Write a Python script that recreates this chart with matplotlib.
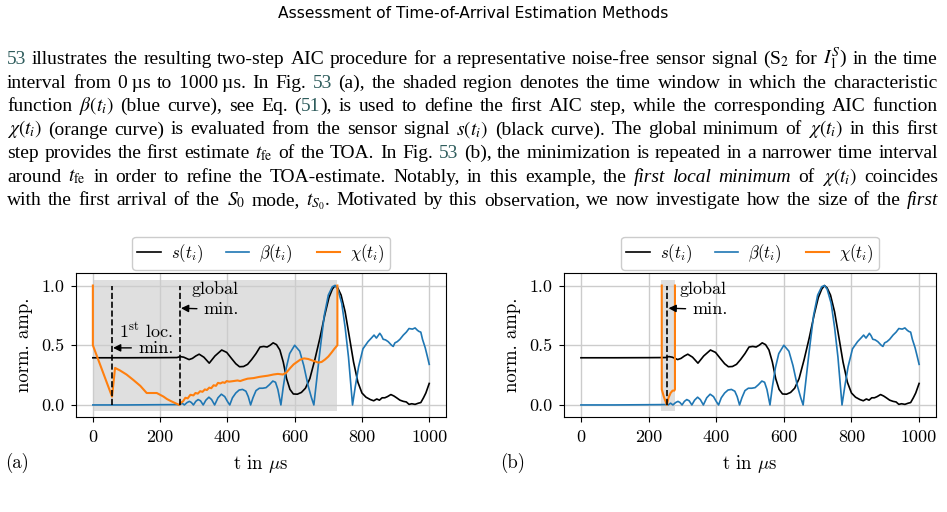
import re
import matplotlib.pyplot as plt

plt.rcParams['font.family'] = ['cmr10', 'DejaVu Serif']
plt.rcParams['mathtext.fontset'] = 'cm'
plt.rcParams['axes.unicode_minus'] = False

# sensor signal s(t_i), same in both panels
s_t = [0, 100, 200, 250, 260, 270, 278, 286, 296, 306, 316, 330, 346, 363, 383, 398, 412, 425, 436, 448,
       460, 472, 485, 497, 508, 518, 527, 536, 546, 556, 566, 576, 586, 596, 608, 620, 632, 645, 660, 675,
       690, 702, 712, 720, 728, 738, 750, 762, 775, 788, 800, 812, 825, 835, 844, 852, 860, 868, 876, 886,
       895, 903, 913, 923, 932, 940, 948, 958, 968, 975, 983, 990, 1000]
s_v = [0.395, 0.395, 0.396, 0.397, 0.405, 0.40, 0.39, 0.38, 0.39, 0.41, 0.425, 0.40, 0.35, 0.41, 0.46, 0.44,
       0.39, 0.345, 0.32, 0.322, 0.34, 0.38, 0.43, 0.485, 0.49, 0.485, 0.50, 0.52, 0.505, 0.46, 0.36, 0.22,
       0.13, 0.092, 0.09, 0.105, 0.14, 0.22, 0.38, 0.56, 0.76, 0.90, 0.97, 1.0, 0.98, 0.92, 0.78, 0.58,
       0.36, 0.19, 0.10, 0.065, 0.045, 0.035, 0.05, 0.04, 0.06, 0.06, 0.07, 0.087, 0.075, 0.06, 0.04, 0.03,
       0.025, 0.005, 0.01, 0.005, 0.015, 0.02, 0.06, 0.10, 0.18]

# characteristic function beta(t_i)
beta_t = [0, 100, 200, 250, 258, 265, 272, 280, 287, 293, 299, 306, 313, 320, 328, 336, 345, 353, 362, 372,
          382, 392, 400, 407, 415, 425, 435, 445, 455, 462, 469, 476, 485, 495, 505, 515, 525, 535, 543, 550,
          559, 566, 575, 585, 600, 615, 627, 640, 650, 657, 665, 675, 688, 700, 712, 720, 728, 740, 750, 760,
          772, 780, 790, 803, 818, 828, 836, 843, 848, 853, 858, 863, 870, 878, 888, 893, 898, 905, 913, 923,
          932, 940, 950, 958, 965, 970, 975, 980, 988, 995, 1000]
beta_v = [0, 0, 0.002, 0.003, 0.0, 0.015, 0.0, 0.02, 0.03, 0.02, 0.0, 0.03, 0.045, 0.035, 0.0, 0.04, 0.065,
          0.045, 0.0, 0.06, 0.09, 0.07, 0.03, 0.0, 0.06, 0.1, 0.125, 0.13, 0.115, 0.07, 0.0, 0.06, 0.12, 0.14,
          0.14, 0.145, 0.17, 0.2, 0.19, 0.13, 0.0, 0.15, 0.31, 0.43, 0.5, 0.45, 0.33, 0.16, 0.06, 0.0, 0.2,
          0.45, 0.75, 0.92, 0.99, 1.0, 0.97, 0.85, 0.65, 0.40, 0.0, 0.15, 0.32, 0.47, 0.53, 0.56, 0.585, 0.56,
          0.58, 0.6, 0.58, 0.55, 0.545, 0.53, 0.50, 0.49, 0.52, 0.53, 0.55, 0.585, 0.61, 0.64, 0.635, 0.645,
          0.625, 0.615, 0.61, 0.55, 0.48, 0.40, 0.34]

# AIC function chi(t_i), first step (a)
chi_a_t = [0, 0, 57, 66, 80, 100, 120, 141, 160, 175, 190, 200, 210, 220, 230, 245, 257, 262, 268, 275, 282,
           290, 299, 305, 312, 319, 326, 333, 339, 346, 352, 359, 366, 372, 379, 386, 392, 398, 405, 418, 430,
           438, 448, 460, 478, 495, 507, 520, 537, 550, 565, 575, 587, 597, 607, 617, 628, 640, 650, 660, 670,
           680, 690, 700, 710, 718, 727, 727]
chi_a_v = [1.0, 0.5, 0.07, 0.31, 0.29, 0.255, 0.21, 0.16, 0.10, 0.10, 0.10, 0.085, 0.07, 0.05, 0.035, 0.015,
           0.0, 0.02, 0.03, 0.06, 0.055, 0.085, 0.08, 0.10, 0.095, 0.115, 0.11, 0.13, 0.125, 0.145, 0.14,
           0.165, 0.16, 0.185, 0.18, 0.19, 0.185, 0.2, 0.195, 0.2, 0.205, 0.2, 0.21, 0.22, 0.225, 0.235, 0.24,
           0.245, 0.255, 0.26, 0.255, 0.27, 0.31, 0.34, 0.36, 0.38, 0.39, 0.385, 0.375, 0.365, 0.355, 0.36,
           0.38, 0.405, 0.44, 0.47, 0.5, 1.0]

# AIC function chi(t_i), second step (b)
chi_b_t = [239, 239, 245, 254, 259, 265, 271, 276, 278, 278]
chi_b_v = [1.0, 0.13, 0.07, 0.0, 0.06, 0.1, 0.12, 0.12, 0.13, 1.0]

win_a = [0, 727]
win_b = [238, 279]
min_a = [57, 258]
min_b = [255]
xticks = [0, 200, 400, 600, 800, 1000]
yticks = [0.0, 0.5, 1.0]

title = 'Assessment of Time-of-Arrival Estimation Methods'
# @..@ = link colour, *..* = italic, ~ = thin space
para = [
    r'@53@ illustrates the resulting two-step AIC procedure for a representative noise-free sensor signal (S$_2$ for $I_1^S$) in the time',
    r'interval from 0~µs to 1000~µs. In Fig. @53@ (a), the shaded region denotes the time window in which the characteristic',
    r'function $\beta(t_i)$ (blue curve), see Eq. (@51@), is used to define the first AIC step, while the corresponding AIC function',
    r'$\chi(t_i)$ (orange curve) is evaluated from the sensor signal $s(t_i)$ (black curve). The global minimum of $\chi(t_i)$ in this first',
    r'step provides the first estimate $t_\mathrm{fe}$ of the TOA. In Fig. @53@ (b), the minimization is repeated in a narrower time interval',
    r'around $t_\mathrm{fe}$ in order to refine the TOA-estimate. Notably, in this example, the *first* *local* *minimum* of $\chi(t_i)$ coincides',
    r'with the first arrival of the $S_0$ mode, $t_{S_0}$. Motivated by this observation, we now investigate how the size of the *first*',
]
base_px = [64, 87.5, 111, 134.5, 158, 181.5, 205]
LINK = '#2e5c5c'

fig = plt.figure(figsize=(9.47, 5.12), dpi=100)
r = fig.canvas.get_renderer()
W, H = 947, 512

fig.text(0.5, 1 - 18.5 / H, title, ha='center', va='baseline', fontsize=11.2, family='DejaVu Sans')


def segments(word):
    out = []
    for p in re.split(r'(@[^@]*@|\*[^*]*\*)', word):
        if not p:
            continue
        if p[0] == '@':
            out.append((p[1:-1], LINK, 'normal'))
        elif p[0] == '*':
            out.append((p[1:-1], 'black', 'italic'))
        else:
            out.append((p, 'black', 'normal'))
    return out


x0, x1 = 7, 938
min_gap = 4.0
lines = []
for k, line in enumerate(para):
    yb = 1 - base_px[k] / H
    words = []
    for w in line.split(' '):
        segs = []
        for txt, col, sty in segments(w.replace('~', '\u2009')):
            segs.append(fig.text(0, yb, txt, color=col, style=sty, fontsize=14, va='baseline',
                                 family=['Liberation Serif', 'DejaVu Serif'], math_fontfamily='stix'))
        words.append(segs)
    lines.append(words)

# largest font size for which every line still fits with a minimal word gap
scale = 1.0
for words in lines:
    tot = sum(t.get_window_extent(r).width for segs in words for t in segs)
    need = tot + min_gap * (len(words) - 1)
    scale = min(scale, (x1 - x0 - min_gap * (len(words) - 1)) / tot if need > x1 - x0 else 1.0)
size = 14 * scale

for words in lines:
    for segs in words:
        for t in segs:
            t.set_fontsize(size)
    widths = [[t.get_window_extent(r).width for t in segs] for segs in words]
    gap = (x1 - x0 - sum(sum(w) for w in widths)) / (len(words) - 1)
    x = x0
    for segs, ws in zip(words, widths):
        xx = x
        for t, w in zip(segs, ws):
            t.set_x(xx / W)
            xx += w
        x += sum(ws) + gap


def panel(ax, chi_t, chi_v, win, mins):
    ax.fill_between(win, -0.05, 1.05, color='0.5', alpha=0.25, lw=0)
    ax.plot(s_t, s_v, color='k', lw=1.2, label=r'$s(t_i)$')
    ax.plot(beta_t, beta_v, color='tab:blue', lw=1.2, label=r'$\beta(t_i)$')
    ax.plot(chi_t, chi_v, color='tab:orange', lw=1.5, label=r'$\chi(t_i)$')
    ax.vlines(mins, 0, 1, colors='k', linestyles='--', lw=1.2)
    ax.set_xlim(-50, 1050)
    ax.set_ylim(-0.105, 1.105)
    ax.set_xticks(xticks)
    ax.set_yticks(yticks)
    ax.set_yticklabels(['%.1f' % v for v in yticks])
    ax.grid(True, color='0.8', lw=1)
    ax.tick_params(labelsize=13, length=3.5, width=0.8, pad=5)
    ax.set_xlabel(r't in $\mu$s', fontsize=13.5, labelpad=6)
    ax.set_ylabel('norm. amp.', fontsize=13.5, labelpad=6)
    ax.legend(loc='lower center', bbox_to_anchor=(0.5, 1.0), ncol=3, fontsize=12,
              borderaxespad=0.2, borderpad=0.3, handlelength=1.4, handletextpad=0.6,
              columnspacing=1.4, edgecolor='0.8', framealpha=1)
    arrow = dict(arrowstyle='-|>', color='k', lw=1, shrinkA=3, shrinkB=0, mutation_scale=11)
    ax.text(362, 0.97, 'global', ha='center', va='center', fontsize=13)
    ax.annotate('min.', xy=(mins[-1] + 4, 0.81), xytext=(330, 0.80), ha='left', va='center',
                fontsize=13, arrowprops=arrow)
    return arrow


axA = fig.add_axes([0.0803, 0.1846, 0.3907, 0.2822])
arrow = panel(axA, chi_a_t, chi_a_v, win_a, min_a)
axA.text(158, 0.615, r'1$^{\rm st}$ loc.', ha='center', va='center', fontsize=13)
axA.annotate('min.', xy=(min_a[0] + 3, 0.478), xytext=(135, 0.478), ha='left', va='center',
             fontsize=13, arrowprops=arrow)

axB = fig.add_axes([0.5956, 0.1846, 0.3928, 0.2822])
panel(axB, chi_b_t, chi_b_v, win_b, min_b)

fig.text(5 / W, 1 - 463 / H, '(a)', fontsize=13.5, va='center')
fig.text(500 / W, 1 - 463 / H, '(b)', fontsize=13.5, va='center')

fig.savefig('out.png', dpi=100)
